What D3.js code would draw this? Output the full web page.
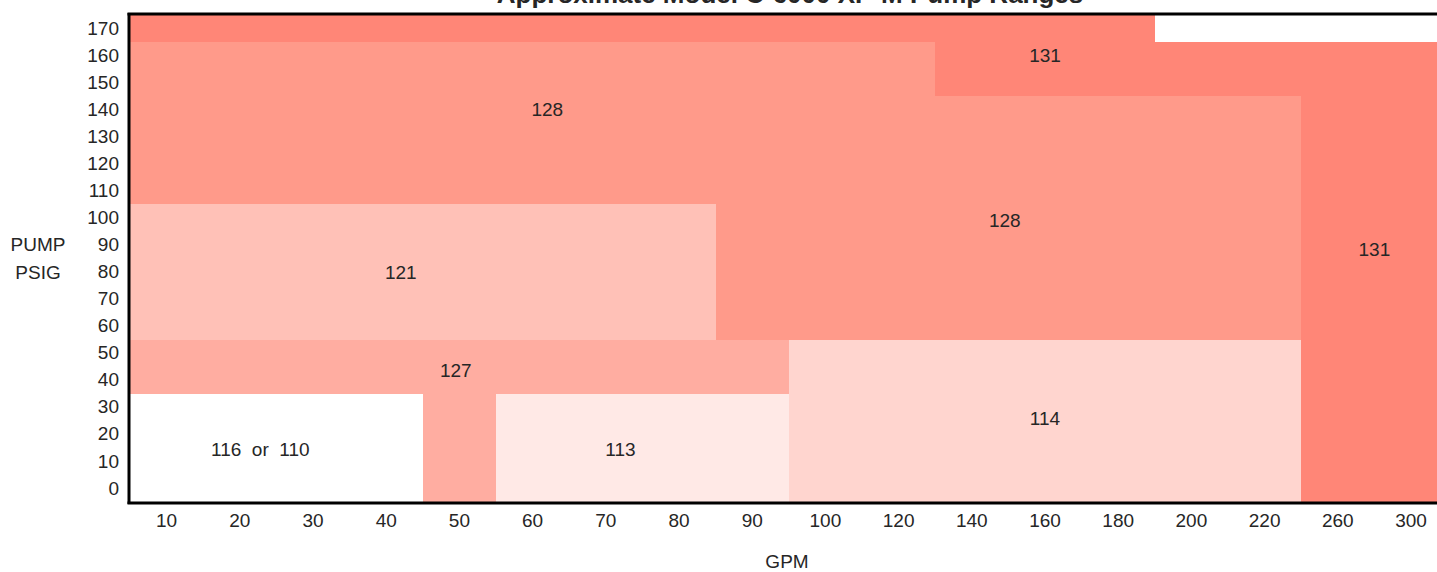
<!DOCTYPE html>
<html lang="en">
<head>
    <meta charset="UTF-8">
    <title>Pump Ranges</title>
    <style>
        body{
            margin: 0;
            background: white;
        }
        svg{
            display: block;
            font-family: "Liberation Sans", Arial, sans-serif;
        }
        .tick-label, .cell-label, .axis-title{
            fill: #262626;
            font-size: 19px;
        }
        .cell-label{
            white-space: pre;
        }
    </style>
    <script src="https://cdn.jsdelivr.net/npm/d3@7"></script>
</head>
<body>
<script>
    const width = 1437
    const height = 572

    // categories
    const gpm = [10,20,30,40,50,60,70,80,90,100,120,140,160,180,200,220,260,300]
    const psig = [0,10,20,30,40,50,60,70,80,90,100,110,120,130,140,150,160,170]

    // pump model regions (from gpm..to gpm, from psig..to psig)
    const regionModel = [131, 131, 131, 128, 128, 128, 121, 127, 127, 113, 114, 0]
    const regionGpmFrom = [10, 140, 260, 10, 140, 90, 10, 10, 50, 60, 100, 10]
    const regionGpmTo = [180, 300, 300, 120, 220, 220, 80, 90, 50, 90, 220, 40]
    const regionPsigFrom = [170, 150, 0, 110, 110, 60, 60, 40, 0, 0, 0, 0]
    const regionPsigTo = [170, 160, 140, 160, 140, 100, 100, 50, 30, 30, 50, 30]

    // labels, positions given in category-index units (gpm index, psig index)
    const labelText = ["128", "131", "128", "131", "121", "127", "116  or  110", "113", "114"]
    const labelGpmIdx = [5.7, 12.5, 11.95, 17.0, 3.7, 4.45, 1.78, 6.7, 12.5]
    const labelPsigIdx = [14.5, 16.5, 10.4, 9.35, 8.5, 4.85, 1.96, 1.96, 3.1]

    const modelColor = d3.scaleOrdinal()
        .domain([0, 113, 114, 121, 127, 128, 131])
        .range(["#ffffff", "#ffe9e6", "#ffd5cf", "#ffc1b7", "#ffada1", "#ff9a8a", "#ff8677"])

    const margin = {left: 130, top: 15, bottom: 70}
    const plotRight = margin.left + gpm.length * 73.2
    const plotBottom = height - margin.bottom

    const x = d3.scaleBand().domain(gpm).range([margin.left, plotRight])
    const y = d3.scaleBand().domain(psig).range([plotBottom, margin.top])
    const xi = d3.scaleLinear().domain([0, gpm.length]).range([margin.left, plotRight])
    const yi = d3.scaleLinear().domain([0, psig.length]).range([plotBottom, margin.top])

    let svg = d3.select("body").append("svg")
        .attr("width", width)
        .attr("height", height)

    const regions = regionModel.map((m, i) => ({
        model: m,
        x0: regionGpmFrom[i], x1: regionGpmTo[i],
        y0: regionPsigFrom[i], y1: regionPsigTo[i]
    }))

    svg.append("g").selectAll("rect")
        .data(regions)
        .enter()
        .append("rect")
        .attr("shape-rendering", "crispEdges")
        .attr("x", d => Math.round(x(d.x0)))
        .attr("width", d => Math.round(x(d.x1) + x.bandwidth()) - Math.round(x(d.x0)))
        .attr("y", d => Math.round(y(d.y1)))
        .attr("height", d => Math.round(y(d.y0) + y.bandwidth()) - Math.round(y(d.y1)))
        .attr("fill", d => modelColor(d.model))

    svg.append("g").selectAll("text")
        .data(labelText)
        .enter()
        .append("text")
        .attr("class", "cell-label")
        .attr("x", (d, i) => xi(labelGpmIdx[i]))
        .attr("y", (d, i) => yi(labelPsigIdx[i]))
        .attr("dy", "0.35em")
        .attr("text-anchor", "middle")
        .text(d => d)

    // axes
    const xAxis = svg.append("g")
        .attr("transform", `translate(0,${plotBottom})`)
        .call(d3.axisBottom(x).tickSize(0).tickPadding(12))
    const yAxis = svg.append("g")
        .attr("transform", `translate(${margin.left},0)`)
        .call(d3.axisLeft(y).tickSize(0).tickPadding(11))
    for (const a of [xAxis, yAxis]) {
        a.select(".domain").remove()
        a.selectAll("text").attr("class", "tick-label").attr("font-size", null).attr("font-family", null)
    }

    // frame
    svg.append("line")
        .attr("x1", margin.left - 1).attr("x2", margin.left - 1)
        .attr("y1", margin.top - 2).attr("y2", plotBottom + 2)
        .attr("stroke", "#000").attr("stroke-width", 3)
    svg.append("line")
        .attr("x1", margin.left - 2.5).attr("x2", width)
        .attr("y1", plotBottom + 1).attr("y2", plotBottom + 1)
        .attr("stroke", "#000").attr("stroke-width", 3)
    svg.append("line")
        .attr("x1", margin.left - 2.5).attr("x2", width)
        .attr("y1", margin.top - 1).attr("y2", margin.top - 1)
        .attr("stroke", "#000").attr("stroke-width", 3)

    // titles
    svg.append("text")
        .attr("x", 790).attr("y", 3)
        .attr("text-anchor", "middle")
        .attr("font-size", 26).attr("font-weight", "bold").attr("fill", "#262626")
        .text("Approximate Model C-6000 XP-M Pump Ranges")
    svg.append("text")
        .attr("class", "axis-title")
        .attr("x", 787).attr("y", 568)
        .attr("text-anchor", "middle")
        .text("GPM")
    const yTitle = svg.append("text")
        .attr("class", "axis-title")
        .attr("text-anchor", "middle")
    yTitle.append("tspan").attr("x", 38).attr("y", 251).text("PUMP")
    yTitle.append("tspan").attr("x", 38).attr("y", 279).text("PSIG")
</script>
</body>
</html>
